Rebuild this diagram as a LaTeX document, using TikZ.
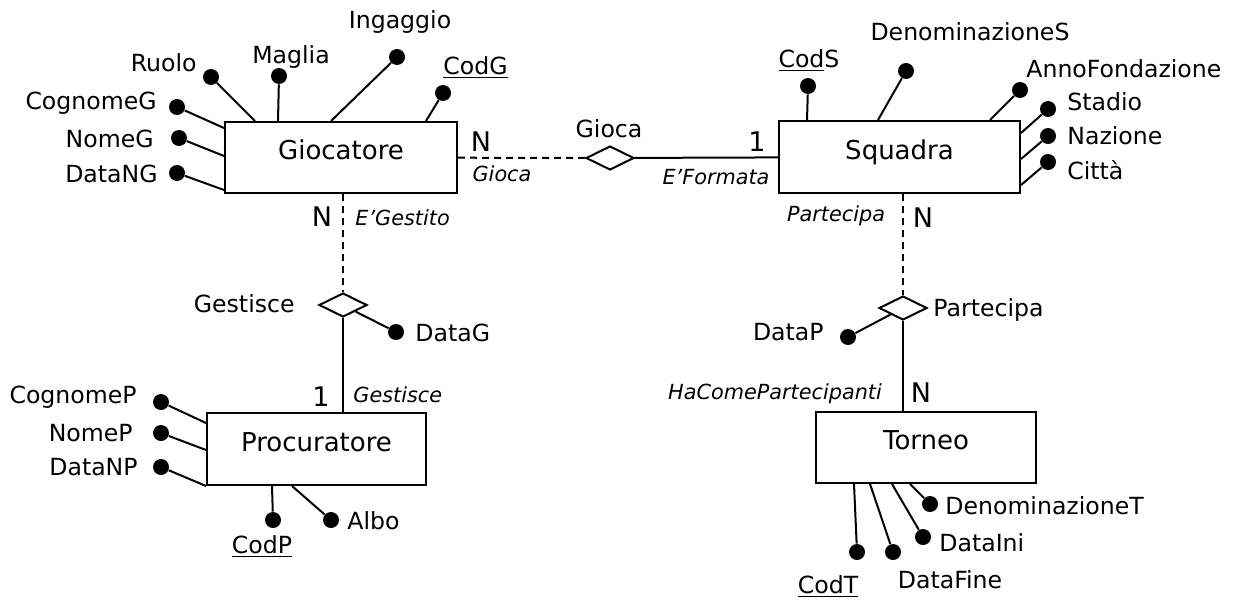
\documentclass[tikz,border=0pt]{standalone}
\usepackage{fontspec}
\setmainfont{DejaVu Sans}
\usetikzlibrary{calc}
\usetikzlibrary{shapes.geometric}
\tikzset{
	entitystyle/.style={rectangle,draw=black,line width=1pt,font=\fontsize{13}{15}\selectfont,text height=9.5pt,text depth=7.5pt},
	relstyle/.style={diamond,draw=black,fill=white,line width=1pt,minimum width=24pt,minimum height=12pt,inner sep=0pt},
	dotstyle/.style={circle,fill=black,inner sep=0pt,minimum size=8pt},
	attrstyle/.style={inner sep=0pt,font=\fontsize{11.8}{14}\selectfont,text height=8.6pt,text depth=0pt},
	rolestyle/.style={inner sep=0pt,font=\fontsize{10.4}{12}\selectfont\itshape,text height=7.6pt,text depth=0pt},
	cardstyle/.style={inner sep=0pt,font=\fontsize{13.5}{16}\selectfont,text height=9.8pt,text depth=0pt},
	linkstyle/.style={line width=1pt},
	weakstyle/.style={line width=1pt,dash pattern=on 3.5pt off 2.5pt}
}
\begin{document}
\begin{tikzpicture}[x=0.5pt,y=-0.5pt]
		\useasboundingbox (0,0) rectangle (1234,599);
		% entities
		\node[entitystyle,minimum width=116pt,minimum height=35.5pt] (giocatore) at (341,157.5) {Giocatore};
		\node[entitystyle,minimum width=120.5pt,minimum height=36pt] (squadra) at (899.5,157) {Squadra};
		\node[entitystyle,minimum width=109.5pt,minimum height=36pt] (procuratore) at (316.5,449) {Procuratore};
		\node[entitystyle,minimum width=110pt,minimum height=35.5pt] (torneo) at (926,447.5) {Torneo};
		% relationships
		\node[relstyle] (gioca) at (610,158) {};
		\node[relstyle] (gestisce) at (343,305) {};
		\node[relstyle] (partecipa) at (903,308) {};
		\node[attrstyle] (giocalab) at (609,129) {Gioca};
		\node[attrstyle,anchor=east] (gestiscelab) at (295,304) {Gestisce};
		\node[attrstyle,anchor=west] (partecipalab) at (933,308) {Partecipa};
		\draw[weakstyle] (giocatore) -- (gioca);
		\draw[linkstyle] (gioca) -- (squadra);
		\draw[weakstyle] (gestisce |- giocatore.south) -- (gestisce.north);
		\draw[linkstyle] (gestisce.south) -- (gestisce |- procuratore.north);
		\draw[weakstyle] (partecipa |- squadra.south) -- (partecipa.north);
		\draw[linkstyle] (partecipa.south) -- (partecipa |- torneo.north);
		% cardinalities and roles
		\node[cardstyle] (n1) at (481,142) {N};
		\node[rolestyle] (r1) at (502,174) {Gioca};
		\node[cardstyle] (c1) at (757,142) {1};
		\node[rolestyle] (r2) at (716,177) {E’Formata};
		\node[cardstyle] (n2) at (322,217) {N};
		\node[rolestyle,anchor=west] (r3) at (355,218) {E’Gestito};
		\node[cardstyle] (c2) at (321,397) {1};
		\node[rolestyle,anchor=west] (r4) at (353,395) {Gestisce};
		\node[rolestyle] (r5) at (836,214) {Partecipa};
		\node[cardstyle] (n3) at (923,218) {N};
		\node[rolestyle] (r6) at (775,392) {HaComePartecipanti};
		\node[cardstyle] (n4) at (921,393) {N};
		% attributes of Giocatore
		\node[dotstyle] (ruolo) at (211,77) {};
		\node[dotstyle] (maglia) at (279,76) {};
		\node[dotstyle] (ingaggio) at (397,57) {};
		\node[dotstyle] (codg) at (443,93) {};
		\node[dotstyle] (cognomeg) at (177,107) {};
		\node[dotstyle] (nomeg) at (179,138) {};
		\node[dotstyle] (datang) at (177,173) {};
		\node[attrstyle,anchor=east] (ruololab) at (197,63) {Ruolo};
		\node[attrstyle] (maglialab) at (291,55) {Maglia};
		\node[attrstyle] (ingaggiolab) at (400,20) {Ingaggio};
		\node[attrstyle,anchor=west] (codglab) at (443,66) {\underline{CodG}};
		\node[attrstyle,anchor=east] (cognomeglab) at (157,101) {CognomeG};
		\node[attrstyle,anchor=east] (nomeglab) at (154,139) {NomeG};
		\node[attrstyle,anchor=east] (datanglab) at (158,174) {DataNG};
		\draw[linkstyle] (ruolo) -- ($(giocatore.north west)+(31,0)$);
		\draw[linkstyle] (maglia) -- ($(giocatore.north west)+(54,0)$);
		\draw[linkstyle] (ingaggio) -- ($(giocatore.north west)+(107,0)$);
		\draw[linkstyle] (codg) -- ($(giocatore.north west)+(202,0)$);
		\draw[linkstyle] (cognomeg) -- ($(giocatore.north west)+(0,7)$);
		\draw[linkstyle] (nomeg) -- ($(giocatore.north west)+(0,35)$);
		\draw[linkstyle] (datang) -- ($(giocatore.north west)+(0,69)$);
		% attributes of Squadra
		\node[dotstyle] (cods) at (808,86) {};
		\node[dotstyle] (denoms) at (906,71) {};
		\node[dotstyle] (anno) at (1020,90) {};
		\node[dotstyle] (stadio) at (1048,109) {};
		\node[dotstyle] (nazione) at (1048,136) {};
		\node[dotstyle] (citta) at (1048,162) {};
		\node[attrstyle] (codslab) at (809,59) {\underline{Cod}S};
		\node[attrstyle] (denomslab) at (970,32) {DenominazioneS};
		\node[attrstyle,anchor=west] (annolab) at (1026,69) {AnnoFondazione};
		\node[attrstyle,anchor=west] (stadiolab) at (1067,102) {Stadio};
		\node[attrstyle,anchor=west] (nazionelab) at (1067,136) {Nazione};
		\node[attrstyle,anchor=west] (cittalab) at (1067,171) {Città};
		\draw[linkstyle] (cods) -- ($(squadra.north west)+(29,0)$);
		\draw[linkstyle] (denoms) -- ($(squadra.north west)+(100,0)$);
		\draw[linkstyle] (anno) -- ($(squadra.north west)+(212,0)$);
		\draw[linkstyle] (stadio) -- ($(squadra.north east)+(0,13)$);
		\draw[linkstyle] (nazione) -- ($(squadra.north east)+(0,39)$);
		\draw[linkstyle] (citta) -- ($(squadra.north east)+(0,65)$);
		% attributes of relationships
		\node[dotstyle] (datag) at (396,332) {};
		\node[attrstyle,anchor=west] (dataglab) at (415,333) {DataG};
		\draw[linkstyle] (datag) -- (gestisce.south east);
		\node[dotstyle] (datap) at (848,337) {};
		\node[attrstyle,anchor=east] (dataplab) at (824,332) {DataP};
		\draw[linkstyle] (datap) -- (partecipa.south west);
		% attributes of Procuratore
		\node[dotstyle] (cognomep) at (161,402) {};
		\node[dotstyle] (nomep) at (161,433) {};
		\node[dotstyle] (datanp) at (161,467) {};
		\node[dotstyle] (codp) at (273,520) {};
		\node[dotstyle] (albo) at (331,520) {};
		\node[attrstyle,anchor=east] (cognomeplab) at (137,395) {CognomeP};
		\node[attrstyle,anchor=east] (nomeplab) at (133,433) {NomeP};
		\node[attrstyle,anchor=east] (datanplab) at (138,467) {DataNP};
		\node[attrstyle] (codplab) at (262,545) {\underline{CodP}};
		\node[attrstyle,anchor=west] (albolab) at (347,521) {Albo};
		\draw[linkstyle] (cognomep) -- ($(procuratore.north west)+(0,11)$);
		\draw[linkstyle] (nomep) -- ($(procuratore.north west)+(0,38)$);
		\draw[linkstyle] (datanp) -- (procuratore.south west);
		\draw[linkstyle] (codp) -- ($(procuratore.south west)+(66,0)$);
		\draw[linkstyle] (albo) -- ($(procuratore.south west)+(86,0)$);
		% attributes of Torneo
		\node[dotstyle] (codt) at (857,552) {};
		\node[dotstyle] (datafine) at (893,552) {};
		\node[dotstyle] (dataini) at (923,537) {};
		\node[dotstyle] (denomt) at (930,504) {};
		\node[attrstyle] (codtlab) at (828,585) {\underline{CodT}};
		\node[attrstyle] (datafinelab) at (950,580) {DataFine};
		\node[attrstyle,anchor=west] (datainilab) at (939,543) {DataIni};
		\node[attrstyle,anchor=west] (denomtlab) at (945,506) {DenominazioneT};
		\draw[linkstyle] (codt) -- ($(torneo.south west)+(39,0)$);
		\draw[linkstyle] (datafine) -- ($(torneo.south west)+(55,0)$);
		\draw[linkstyle] (dataini) -- ($(torneo.south west)+(77,0)$);
		\draw[linkstyle] (denomt) -- ($(torneo.south west)+(95,0)$);
\end{tikzpicture}
\end{document}
